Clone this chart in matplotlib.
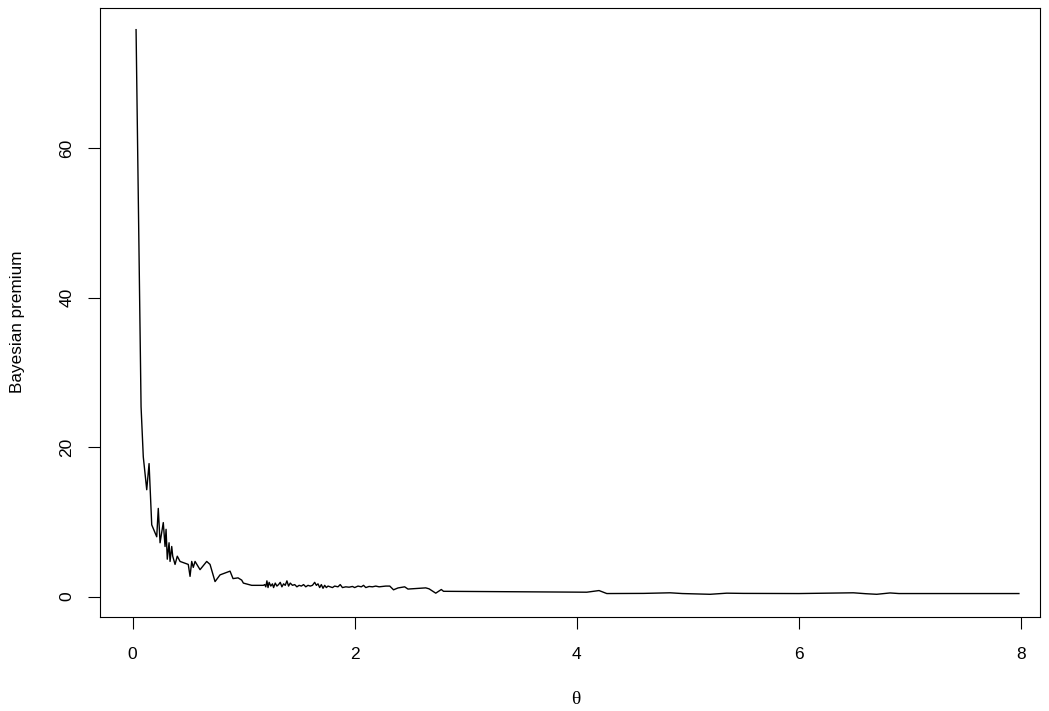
import numpy as np
import matplotlib
matplotlib.use("Agg")
import matplotlib.pyplot as plt

# theta grid and the premium
theta_head = [0.032, 0.077, 0.097, 0.128, 0.149, 0.173, 0.218, 0.232, 0.248, 0.277,
              0.293, 0.302, 0.313, 0.329, 0.338, 0.353, 0.362, 0.383, 0.403, 0.428,
              0.502, 0.518, 0.533, 0.547, 0.563, 0.608, 0.668, 0.698, 0.743, 0.788,
              0.878, 0.905, 0.950, 0.983, 0.998, 1.073, 1.178]
prem_head = [75.9, 25.4, 18.7, 14.3, 17.8, 9.6, 8.0, 11.8, 7.2, 9.9,
             6.7, 9.0, 5.0, 7.2, 4.7, 6.7, 5.4, 4.3, 5.4, 4.7,
             4.3, 2.7, 4.7, 3.9, 4.7, 3.6, 4.7, 4.3, 2.0, 2.9,
             3.4, 2.4, 2.5, 2.2, 1.8, 1.5, 1.5]

theta_mid = [1.19, 1.20, 1.21, 1.22, 1.23, 1.245, 1.26, 1.27, 1.285, 1.30,
             1.315, 1.33, 1.345, 1.36, 1.375, 1.39, 1.405, 1.42, 1.44, 1.46,
             1.48, 1.50, 1.52, 1.54, 1.56, 1.58, 1.60, 1.62, 1.64, 1.655,
             1.67, 1.685, 1.70, 1.715, 1.73, 1.745, 1.76, 1.78, 1.80, 1.82,
             1.85, 1.87, 1.89, 1.92, 1.95, 1.98, 2.00, 2.03, 2.06, 2.08,
             2.10, 2.13, 2.16, 2.19, 2.22, 2.25, 2.28, 2.316, 2.35, 2.39,
             2.45, 2.48, 2.55, 2.64, 2.67, 2.73, 2.78, 2.80]
prem_mid = [1.6, 1.3, 2.1, 1.2, 1.9, 1.4, 1.7, 1.2, 1.8, 1.4,
            1.6, 1.9, 1.3, 1.7, 1.5, 2.1, 1.4, 1.8, 1.5, 1.6,
            1.3, 1.5, 1.4, 1.6, 1.3, 1.5, 1.4, 1.5, 1.9, 1.5,
            1.7, 1.2, 1.6, 1.1, 1.5, 1.2, 1.4, 1.3, 1.2, 1.4,
            1.3, 1.6, 1.2, 1.3, 1.25, 1.35, 1.2, 1.4, 1.3, 1.5,
            1.2, 1.35, 1.3, 1.4, 1.3, 1.35, 1.4, 1.4, 0.9, 1.15,
            1.3, 1.0, 1.07, 1.16, 1.03, 0.45, 0.94, 0.7]

theta_tail = [4.09, 4.20, 4.27, 4.60, 4.84, 4.95, 5.20, 5.35, 5.50, 6.00,
              6.49, 6.60, 6.70, 6.82, 6.90, 7.50, 7.98]
prem_tail = [0.58, 0.8, 0.4, 0.42, 0.5, 0.4, 0.3, 0.45, 0.42, 0.4,
             0.5, 0.38, 0.3, 0.48, 0.4, 0.4, 0.4]

theta = np.array(theta_head + theta_mid + theta_tail)
premium = np.array(prem_head + prem_mid + prem_tail)

plt.rcParams['font.family'] = ['Liberation Sans', 'DejaVu Sans']

fig = plt.figure(figsize=(10.49, 7.11), dpi=100)
ax = fig.add_axes([100.3 / 1049, 1 - 616.7 / 711, (1040 - 100.3) / 1049, (616.7 - 8) / 711])

ax.plot(theta, premium, color='black', linewidth=1.0)

ax.set_xlim(-0.29, 8.17)
ax.set_ylim(-2.7, 78.8)
ax.set_xticks([0, 2, 4, 6, 8])
ax.set_yticks([0, 20, 40, 60])
ax.tick_params(axis='both', direction='out', length=8.6, width=0.8, labelsize=12.5)
ax.tick_params(axis='x', pad=13)
ax.tick_params(axis='y', pad=10)
for lab in ax.get_yticklabels():
    lab.set_rotation(90)
    lab.set_va('center')
for s in ax.spines.values():
    s.set_linewidth(0.8)

fig.text(18 / 1049, 1 - 322 / 711, 'Bayesian premium', rotation=90, ha='center', va='center', fontsize=12.3)
fig.text(576 / 1049, 1 - 700 / 711, 'θ', ha='center', va='center', fontsize=14, family=['Liberation Serif', 'DejaVu Serif'])

fig.savefig('out.png', dpi=100)
